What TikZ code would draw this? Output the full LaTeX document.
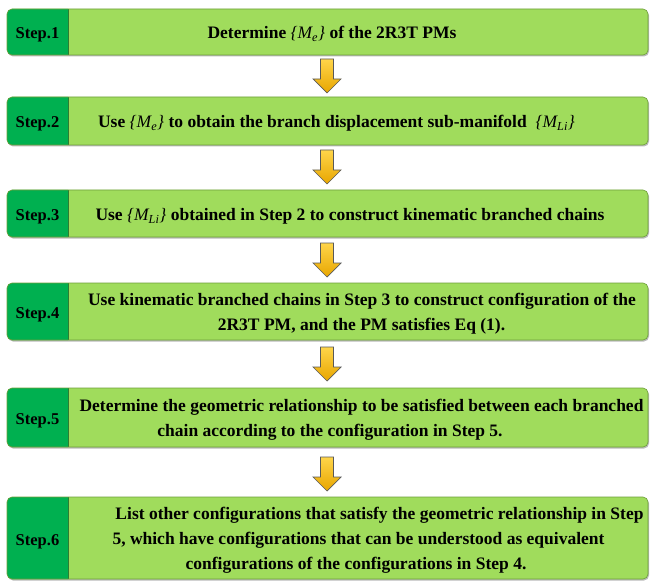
\documentclass[tikz,border=0pt]{standalone}
\usepackage{fontspec}
\setmainfont{Liberation Serif}
\usetikzlibrary{shadows}
\definecolor{lightgr}{HTML}{A0DC5C}
\definecolor{darkgr}{HTML}{00B050}
\definecolor{edgegr}{HTML}{6E9E3A}
\definecolor{darkedge}{HTML}{2E7D32}
\definecolor{gold}{HTML}{FFC000}
\definecolor{goldlight}{HTML}{FFD54A}
\definecolor{golddark}{HTML}{E8A600}
\newcommand\Me{{\mdseries\itshape\{M\textsubscript{e}\}}}
\newcommand\MLi{{\mdseries\itshape\{M\textsubscript{Li}\}}}
\newcommand\mkbox[4]{%
  \node[mainbox, minimum height=#3pt] (#1) at (327.5,#2) {};
  \begin{scope}
    \clip ([xshift=-2pt,yshift=2pt]#1.north west) rectangle ([xshift=61pt,yshift=-2pt]#1.south west);
    \fill[darkgr, rounded corners=5pt] (#1.north west) rectangle (#1.south east);
  \end{scope}
  \draw[darkedge, line width=0.6pt] ([xshift=61pt]#1.north west) -- ([xshift=61pt]#1.south west);
  \draw[edgegr, line width=0.6pt, rounded corners=5pt] (#1.north west) rectangle (#1.south east);
  \node[steplab] (#1l) at ([xshift=30.5pt,yshift=-7pt]#1.center -| #1.west) {#4};
}
\begin{document}
\begin{tikzpicture}[x=1pt,y=-1pt,
  mainbox/.style={fill=lightgr, rounded corners=5pt, minimum width=641pt, inner sep=0pt, outer sep=0pt,
    drop shadow={shadow xshift=1pt, shadow yshift=-1.5pt, opacity=0.45, fill=black!60}},
  steplab/.style={font=\bfseries\fontsize{16.5}{19}\selectfont, anchor=base, inner sep=0pt},
  txt/.style={font=\bfseries\fontsize{17.5}{20}\selectfont, anchor=base, inner sep=0pt},
  downarrow/.pic={\draw[top color=goldlight, bottom color=golddark, draw=gray!70!black, line width=0.7pt]
     (-6.5,0) -- (6.5,0) -- (6.5,20) -- (14,20) -- (0,34) -- (-14,20) -- (-6.5,20) -- cycle;}]
\useasboundingbox (0,0) rectangle (653,588);

\mkbox{b1}{32}{46}{Step.1}
\mkbox{b2}{121}{48}{Step.2}
\mkbox{b3}{213.5}{47}{Step.3}
\mkbox{b4}{311.5}{57}{Step.4}
\mkbox{b5}{417.5}{59}{Step.5}
\mkbox{b6}{538}{82}{Step.6}

\node[txt] (t1) at (332,39) {Determine \Me{} of the 2R3T PMs};
\node[txt] (t2) at (336.5,128) {Use \Me{} to obtain the branch displacement sub-manifold\ \ \MLi};
\node[txt] (t3) at (350,220.5) {Use \MLi{} obtained in Step 2 to construct kinematic branched chains};
\node[txt] (t4a) at (362,305.5) {Use kinematic branched chains in Step 3 to construct configuration of the};
\node[txt] (t4b) at (361.5,330.5) {2R3T PM, and the PM satisfies Eq (1).};
\node[txt] (t5a) at (361.5,411) {Determine the geometric relationship to be satisfied between each branched};
\node[txt] (t5b) at (330,436.5) {chain according to the configuration in Step 5.};
\node[txt] (t6a) at (379.5,519.5) {List other configurations that satisfy the geometric relationship in Step};
\node[txt] (t6b) at (358.5,544.5) {5, which have configurations that can be understood as equivalent};
\node[txt] (t6c) at (356,569.5) {configurations of the configurations in Step 4.};

\pic at (327,59) {downarrow};
\pic at (327,150) {downarrow};
\pic at (327,243) {downarrow};
\pic at (327,347) {downarrow};
\pic at (327,457) {downarrow};
\end{tikzpicture}
\end{document}
